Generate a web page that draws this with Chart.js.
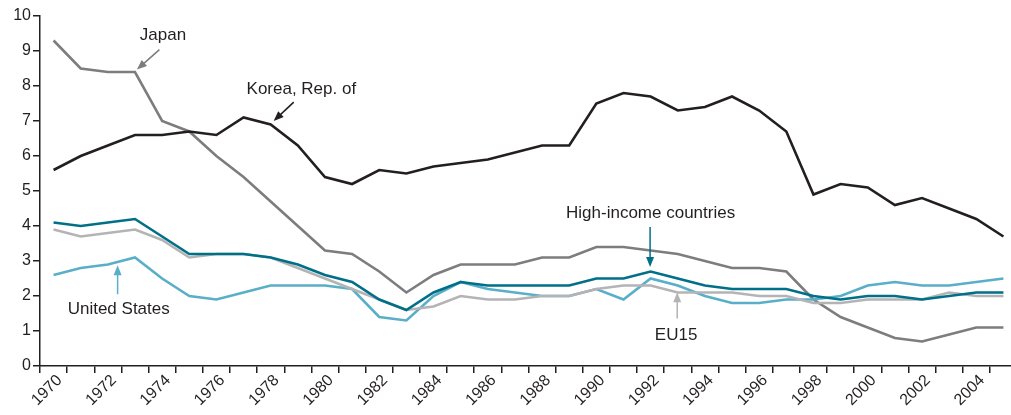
<!DOCTYPE html>
<html lang="en">
<head>
    <meta charset="UTF-8">
    <title>Chart</title>
    <script src="https://cdn.jsdelivr.net/npm/chart.js"></script>
    <style>
        html, body { margin: 0; padding: 0; background: #fff; overflow: hidden; }
        #wrap { width: 1020px; height: 415px; }
    </style>
</head>
<body>
    <div id="wrap"><canvas id="grafico" width="1020" height="415"></canvas></div>

    <script>
        const anos = [];
        for (let a = 1970; a <= 2005; a++) anos.push(String(a));

        const japao = [9.3, 8.5, 8.4, 8.4, 7.0, 6.7, 6.0, 5.4, 4.7, 4.0, 3.3, 3.2, 2.7, 2.1, 2.6, 2.9, 2.9, 2.9, 3.1, 3.1,
            3.4, 3.4, 3.3, 3.2, 3.0, 2.8, 2.8, 2.7, 1.9, 1.4, 1.1, 0.8, 0.7, 0.9, 1.1, 1.1];
        const coreia = [5.6, 6.0, 6.3, 6.6, 6.6, 6.7, 6.6, 7.1, 6.9, 6.3, 5.4, 5.2, 5.6, 5.5, 5.7, 5.8, 5.9, 6.1, 6.3, 6.3,
            7.5, 7.8, 7.7, 7.3, 7.4, 7.7, 7.3, 6.7, 4.9, 5.2, 5.1, 4.6, 4.8, 4.5, 4.2, 3.7];
        const altaRenda = [4.1, 4.0, 4.1, 4.2, 3.7, 3.2, 3.2, 3.2, 3.1, 2.9, 2.6, 2.4, 1.9, 1.6, 2.1, 2.4, 2.3, 2.3, 2.3, 2.3,
            2.5, 2.5, 2.7, 2.5, 2.3, 2.2, 2.2, 2.2, 2.0, 1.9, 2.0, 2.0, 1.9, 2.0, 2.1, 2.1];
        const ue15 = [3.9, 3.7, 3.8, 3.9, 3.6, 3.1, 3.2, 3.2, 3.1, 2.8, 2.5, 2.2, 1.9, 1.6, 1.7, 2.0, 1.9, 1.9, 2.0, 2.0,
            2.2, 2.3, 2.3, 2.1, 2.1, 2.1, 2.0, 2.0, 1.8, 1.8, 1.9, 1.9, 1.9, 2.1, 2.0, 2.0];
        const eua = [2.6, 2.8, 2.9, 3.1, 2.5, 2.0, 1.9, 2.1, 2.3, 2.3, 2.3, 2.2, 1.4, 1.3, 2.0, 2.4, 2.2, 2.1, 2.0, 2.0,
            2.2, 1.9, 2.5, 2.3, 2.0, 1.8, 1.8, 1.9, 1.9, 2.0, 2.3, 2.4, 2.3, 2.3, 2.4, 2.5];

        const corTexto = '#231f20';

        // rotulos com seta: texto e ponta da seta em unidades dos dados (ano, valor)
        const rotulos = [
            { texto: 'Japan', cor: '#7d7d7f', tx: 1974.03, ty: 9.45, de: [1973.9, 9.04], para: [1973.07, 8.47] },
            { texto: 'Korea, Rep. of', cor: corTexto, tx: 1979.13, ty: 7.9, de: [1978.85, 7.54], para: [1978.11, 7.0] },
            { texto: 'High-income countries', cor: '#006f88', tx: 1992.0, ty: 4.35, de: [1991.98, 3.97], para: [1991.98, 2.83] },
            { texto: 'EU15', cor: '#b4b4b6', tx: 1992.94, ty: 0.88, de: [1992.98, 1.36], para: [1992.98, 2.11] },
            { texto: 'United States', cor: '#5aafc8', tx: 1972.4, ty: 1.62, de: [1972.36, 2.05], para: [1972.36, 2.88] }
        ];

        const pluginRotulos = {
            id: 'rotulos',
            afterDatasetsDraw(chart) {
                const ctx = chart.ctx;
                const x = chart.scales.x, y = chart.scales.y;
                const passo = x.getPixelForValue(1) - x.getPixelForValue(0);
                const px = ano => x.getPixelForValue(0) + (ano - 1970) * passo;
                ctx.save();
                ctx.font = '17px "Liberation Sans", Arial, sans-serif';
                ctx.textAlign = 'center';
                ctx.textBaseline = 'middle';
                rotulos.forEach(r => {
                    ctx.fillStyle = corTexto;
                    ctx.fillText(r.texto, px(r.tx), y.getPixelForValue(r.ty));
                    const x1 = px(r.de[0]), y1 = y.getPixelForValue(r.de[1]);
                    const x2 = px(r.para[0]), y2 = y.getPixelForValue(r.para[1]);
                    const ang = Math.atan2(y2 - y1, x2 - x1);
                    ctx.strokeStyle = r.cor;
                    ctx.fillStyle = r.cor;
                    ctx.lineWidth = 1.5;
                    ctx.beginPath();
                    ctx.moveTo(x1, y1);
                    ctx.lineTo(x2 - 6 * Math.cos(ang), y2 - 6 * Math.sin(ang));
                    ctx.stroke();
                    ctx.beginPath();
                    ctx.moveTo(x2, y2);
                    ctx.lineTo(x2 - 10 * Math.cos(ang) + 4 * Math.sin(ang), y2 - 10 * Math.sin(ang) - 4 * Math.cos(ang));
                    ctx.lineTo(x2 - 10 * Math.cos(ang) - 4 * Math.sin(ang), y2 - 10 * Math.sin(ang) + 4 * Math.cos(ang));
                    ctx.closePath();
                    ctx.fill();
                });
                ctx.restore();
            }
        };

        const fonte = { family: '"Liberation Sans", Arial, sans-serif', size: 16 };

        function serie(nome, dados, cor) {
            return { label: nome, data: dados, borderColor: cor, backgroundColor: cor, borderWidth: 2.6, pointRadius: 0, tension: 0, fill: false };
        }

        new Chart(document.getElementById('grafico'), {
            type: 'line',
            data: {
                labels: anos,
                datasets: [
                    serie('Korea, Rep. of', coreia, corTexto),
                    serie('High-income countries', altaRenda, '#006f88'),
                    serie('EU15', ue15, '#b4b4b6'),
                    serie('United States', eua, '#5aafc8'),
                    serie('Japan', japao, '#7d7d7f')
                ]
            },
            options: {
                responsive: false,
                animation: false,
                devicePixelRatio: 1,
                layout: { padding: { top: 16, right: 3, left: 0, bottom: 0 } },
                plugins: { legend: { display: false }, tooltip: { enabled: false } },
                scales: {
                    x: {
                        offset: true,
                        grid: { offset: true, drawOnChartArea: false, tickLength: 7, color: corTexto, lineWidth: 1.5 },
                        border: { color: corTexto, width: 1.5 },
                        ticks: {
                            autoSkip: false, minRotation: 45, maxRotation: 45, padding: -2, labelOffset: 6,
                            color: corTexto, font: fonte,
                            callback: (v, i) => (i % 2 === 0 ? anos[i] : '')
                        },
                        afterFit: s => { s.height = 49; }
                    },
                    y: {
                        min: 0, max: 10,
                        grid: { drawOnChartArea: false, tickLength: 7, color: corTexto, lineWidth: 1.5 },
                        border: { color: corTexto, width: 1.5 },
                        ticks: { stepSize: 1, padding: 2, color: corTexto, font: fonte },
                        afterFit: s => { s.width = 40; }
                    }
                }
            },
            plugins: [pluginRotulos]
        });
    </script>
</body>
</html>
